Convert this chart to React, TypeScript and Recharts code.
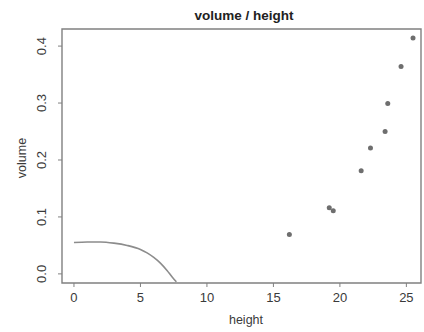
import { ScatterChart, Scatter, XAxis, YAxis, ReferenceArea } from "recharts";

// measured trees
const treeHeight = [16.2, 19.2, 19.5, 21.6, 22.3, 23.4, 23.6, 24.6, 25.5];
const treeVolume = [0.069, 0.116, 0.111, 0.181, 0.221, 0.25, 0.299, 0.364, 0.414];

// fitted curve
const curveHeight = [0, 1, 2, 3, 4, 5, 5.5, 6, 6.5, 7, 7.4, 7.7];
const curveVolume = [0.055, 0.056, 0.056, 0.054, 0.05, 0.043, 0.037, 0.029, 0.019, 0.006, -0.006, -0.014];

const xTicks = [0, 5, 10, 15, 20, 25];
const yTicks = [0, 0.1, 0.2, 0.3, 0.4];

const points = treeHeight.map((h, i) => ({ h, v: treeVolume[i] }));
const curve = curveHeight.map((h, i) => ({ h, v: curveVolume[i] }));

const W = 424;
const H = 332;
const FONT = "'Liberation Sans', Arial, sans-serif";
const TEXT = "#3a3a3a";
const AXIS = "#808080";

const XTick = (props: any) => (
  <text x={props.x} y={302} textAnchor="middle" fontSize={13} fill={TEXT} fontFamily={FONT}>
    {props.payload.value}
  </text>
);

const YTick = (props: any) => (
  <text
    x={46}
    y={props.y}
    transform={`rotate(-90, 46, ${props.y})`}
    textAnchor="middle"
    fontSize={13}
    fill={TEXT}
    fontFamily={FONT}
  >
    {Number(props.payload.value).toFixed(1)}
  </text>
);

export default function App() {
  return (
    <div style={{ position: "absolute", left: 0, top: 0, width: W, height: H, background: "#fff" }}>
      <ScatterChart width={W} height={H} margin={{ top: 29, right: 3, bottom: 0, left: 0 }}>
        <XAxis
          type="number"
          dataKey="h"
          domain={[-0.9, 26.1]}
          allowDataOverflow
          ticks={xTicks}
          tick={XTick}
          tickSize={4}
          tickLine={{ stroke: AXIS }}
          axisLine={false}
          height={49}
        />
        <YAxis
          type="number"
          dataKey="v"
          domain={[-0.016, 0.43]}
          allowDataOverflow
          ticks={yTicks}
          tick={YTick}
          tickSize={4}
          tickLine={{ stroke: AXIS }}
          axisLine={false}
          width={62}
        />
        <ReferenceArea
          x1={-0.9}
          x2={26.1}
          y1={-0.016}
          y2={0.43}
          fill="none"
          stroke={AXIS}
          strokeWidth={1.4}
          ifOverflow="visible"
        />
        <Scatter
          data={curve}
          line={{ stroke: "#8c8c8c", strokeWidth: 1.6 }}
          lineJointType="monotoneX"
          shape={() => <g />}
          isAnimationActive={false}
        />
        <Scatter
          data={points}
          shape={(p: any) => <circle cx={p.cx} cy={p.cy} r={2.5} fill="#6e6e6e" />}
          isAnimationActive={false}
        />
      </ScatterChart>
      <svg width={W} height={H} style={{ position: "absolute", left: 0, top: 0, pointerEvents: "none" }}>
        <text x={244} y={20} textAnchor="middle" fontSize={13.5} fontWeight="bold" fill="#222" fontFamily={FONT}>
          volume / height
        </text>
        <text x={246} y={324} textAnchor="middle" fontSize={12.5} fill={TEXT} fontFamily={FONT}>
          height
        </text>
        <text
          x={26}
          y={158}
          transform="rotate(-90, 26, 158)"
          textAnchor="middle"
          fontSize={12.5}
          fill={TEXT}
          fontFamily={FONT}
        >
          volume
        </text>
      </svg>
    </div>
  );
}
